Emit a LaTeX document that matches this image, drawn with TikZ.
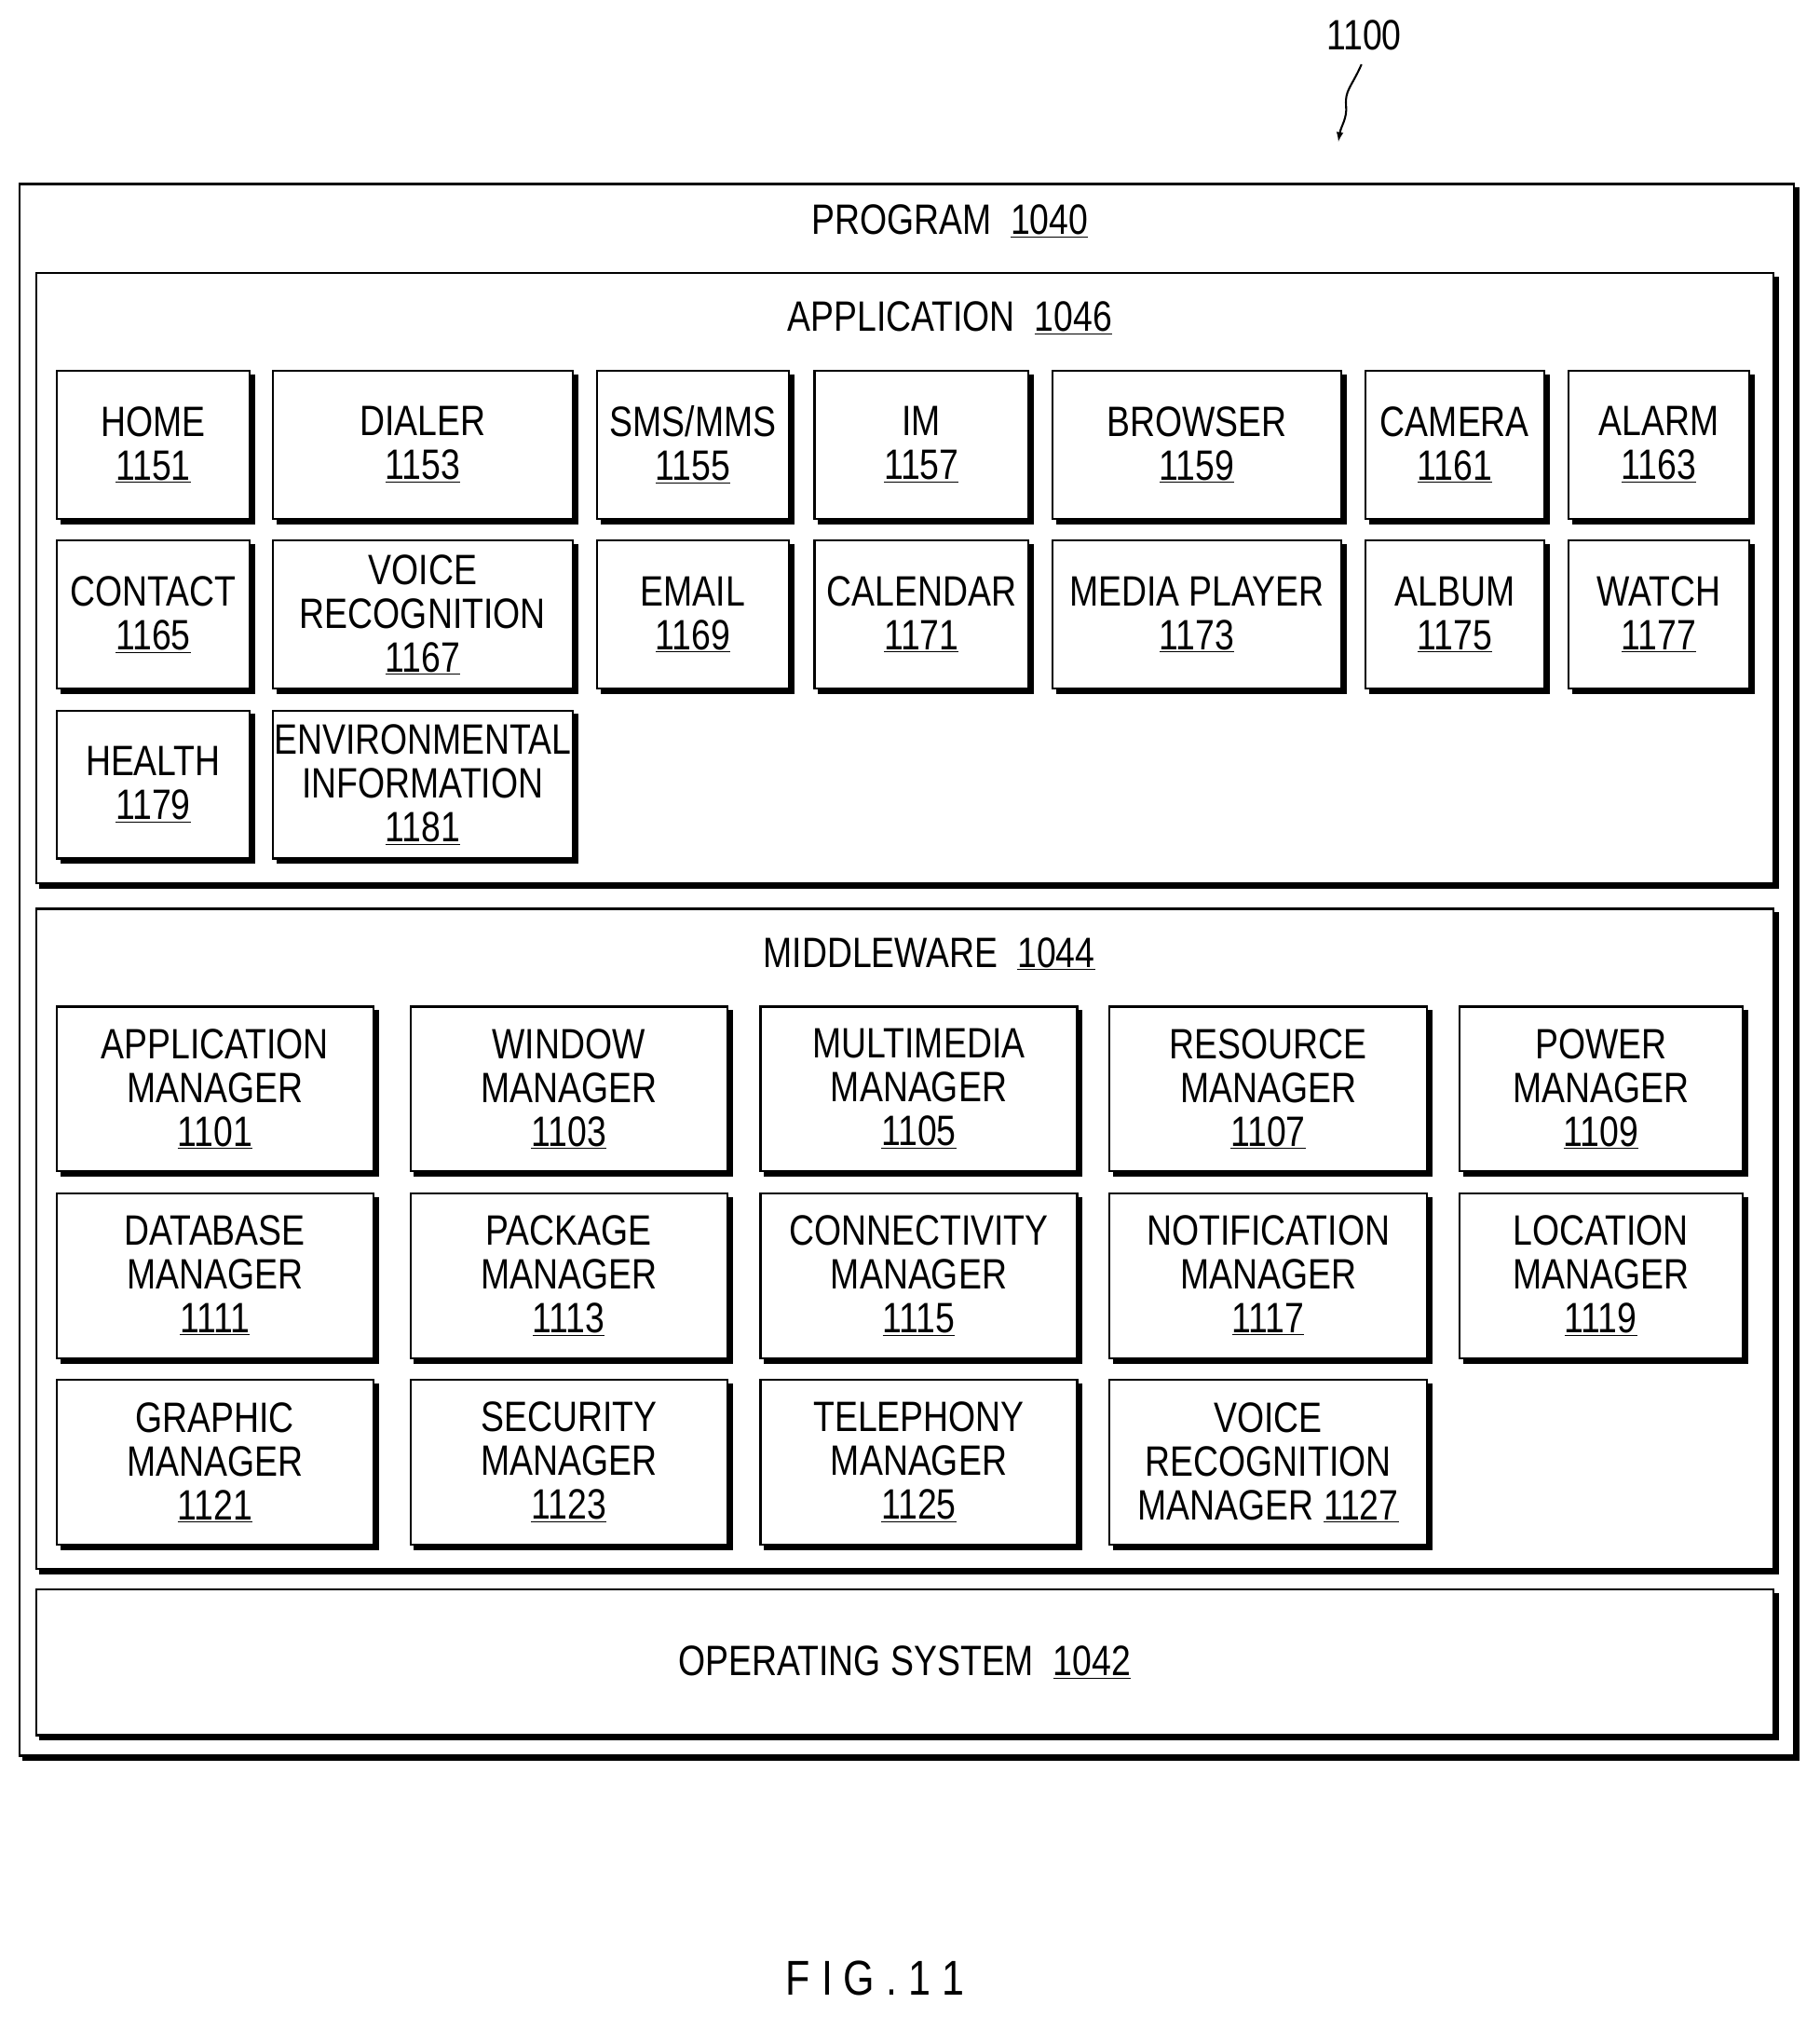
\documentclass[tikz,border=0pt]{standalone}
\usepackage{fontspec}
\setmainfont{Liberation Sans}[FakeStretch=0.82]
\usetikzlibrary{shadows}
\tikzset{
 bx/.style={draw,line width=1.6pt,fill=white,inner sep=0pt,align=center,
   font=\fontsize{33}{34}\selectfont,
   copy shadow={shadow xshift=3.5pt,shadow yshift=-3.5pt,fill=black,draw=black,line width=1.6pt}},
 ttl/.style={font=\fontsize{33}{34}\selectfont,inner sep=0pt}
}
\newcommand{\bx}[6]{\node[bx,minimum width={(#4-#2)*1pt},minimum height={(#5-#3)*1pt}] (#1) at ({(#2+#4)/2},{(#3+#5)/2}) {#6};}
\newcommand{\un}[1]{\underline{#1}}
\begin{document}
\begin{tikzpicture}[x=1pt,y=-1pt]
\useasboundingbox (0,0) rectangle (1414,1567);
\bx{prog}{15}{143}{1394}{1364}{}
\node[ttl] (progt) at (738,172) {PROGRAM\ \ \un{1040}};
\bx{app}{28}{212}{1378}{686}{}
\node[ttl] (appt) at (738,247) {APPLICATION\ \ \un{1046}};
% app row 1
\bx{a1}{44}{288}{194}{403}{HOME\\\un{1151}}
\bx{a2}{212}{288}{445}{403}{DIALER\\\un{1153}}
\bx{a3}{464}{288}{613}{403}{SMS/MMS\\\un{1155}}
\bx{a4}{633}{288}{799}{403}{IM\\\un{1157}}
\bx{a5}{818}{288}{1042}{403}{BROWSER\\\un{1159}}
\bx{a6}{1061}{288}{1200}{403}{CAMERA\\\un{1161}}
\bx{a7}{1219}{288}{1359}{403}{ALARM\\\un{1163}}
% row 2
\bx{b1}{44}{420}{194}{535}{CONTACT\\\un{1165}}
\bx{b2}{212}{420}{445}{535}{VOICE\\RECOGNITION\\\un{1167}}
\bx{b3}{464}{420}{613}{535}{EMAIL\\\un{1169}}
\bx{b4}{633}{420}{799}{535}{CALENDAR\\\un{1171}}
\bx{b5}{818}{420}{1042}{535}{MEDIA PLAYER\\\un{1173}}
\bx{b6}{1061}{420}{1200}{535}{ALBUM\\\un{1175}}
\bx{b7}{1219}{420}{1359}{535}{WATCH\\\un{1177}}
% row 3
\bx{c1}{44}{552}{194}{667}{HEALTH\\\un{1179}}
\bx{c2}{212}{552}{445}{667}{ENVIRONMENTAL\\INFORMATION\\\un{1181}}
% middleware
\bx{mid}{28}{706}{1378}{1219}{}
\node[ttl] (midt) at (722,741) {MIDDLEWARE\ \ \un{1044}};
\bx{m1}{44}{782}{290}{910}{APPLICATION\\MANAGER\\\un{1101}}
\bx{m2}{319}{782}{565}{910}{WINDOW\\MANAGER\\\un{1103}}
\bx{m3}{591}{782}{837}{910}{MULTIMEDIA\\MANAGER\\\un{1105}}
\bx{m4}{862}{782}{1109}{910}{RESOURCE\\MANAGER\\\un{1107}}
\bx{m5}{1134}{782}{1354}{910}{POWER\\MANAGER\\\un{1109}}
\bx{n1}{44}{927}{290}{1055}{DATABASE\\MANAGER\\\un{1111}}
\bx{n2}{319}{927}{565}{1055}{PACKAGE\\MANAGER\\\un{1113}}
\bx{n3}{591}{927}{837}{1055}{CONNECTIVITY\\MANAGER\\\un{1115}}
\bx{n4}{862}{927}{1109}{1055}{NOTIFICATION\\MANAGER\\\un{1117}}
\bx{n5}{1134}{927}{1354}{1055}{LOCATION\\MANAGER\\\un{1119}}
\bx{p1}{44}{1072}{290}{1200}{GRAPHIC\\MANAGER\\\un{1121}}
\bx{p2}{319}{1072}{565}{1200}{SECURITY\\MANAGER\\\un{1123}}
\bx{p3}{591}{1072}{837}{1200}{TELEPHONY\\MANAGER\\\un{1125}}
\bx{p4}{862}{1072}{1109}{1200}{VOICE\\RECOGNITION\\MANAGER \un{1127}}
% OS
\bx{os}{28}{1235}{1378}{1348}{OPERATING SYSTEM\ \ \un{1042}}
% label
\node[ttl] (lbl) at (1060,27) {1100};
\coordinate (tip) at (1040,110);
\draw[line width=1.5pt,-latex] (1058,50) .. controls (1050,68) and (1045,70) .. (1046,82) .. controls (1047,92) and (1042,98) .. (tip);
\node[font=\fontsize{38}{40}\selectfont,inner sep=0pt] (fig) at (680,1537) {F I G . 1 1};
\end{tikzpicture}
\end{document}
